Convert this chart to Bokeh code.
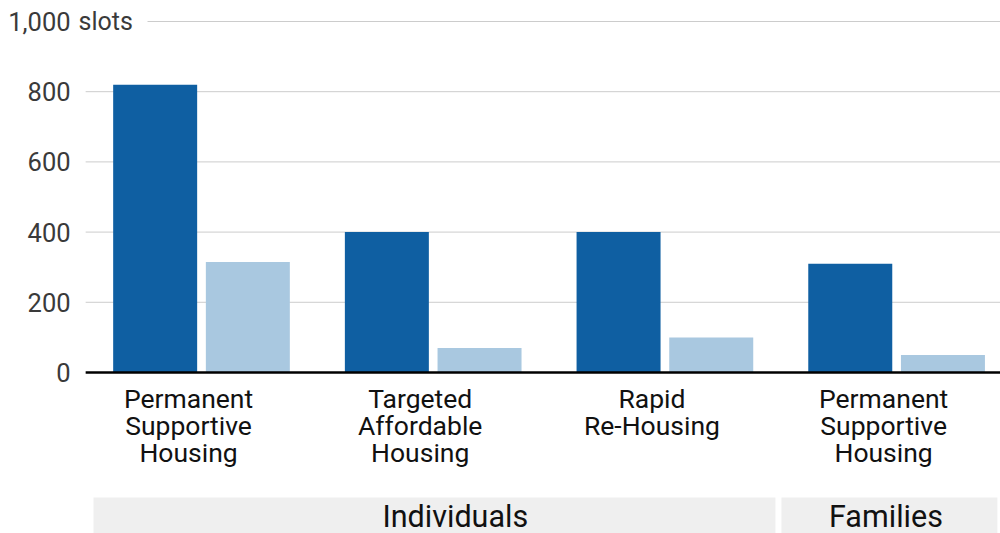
from bokeh.plotting import figure
from bokeh.models import Range1d
from bokeh.core.properties import value
from bokeh.embed import file_html
from bokeh.resources import INLINE

# ---- data ----
categories = ["Permanent\nSupportive\nHousing", "Targeted\nAffordable\nHousing",
              "Rapid\nRe-Housing", "Permanent\nSupportive\nHousing"]
series_dark = [820, 400, 400, 310]
series_light = [315, 70, 100, 50]
y_ticks = [0, 200, 400, 600, 800, 1000]
y_tick_labels = ["0", "200", "400", "600", "800", "1,000"]
unit_label = "slots"
bands = ["Individuals", "Families"]
band_groups = [[0, 1, 2], [3]]

DARK = "#0f5fa2"
LIGHT = "#a9c8e0"
FONT = "Roboto"

W, H = 1000, 533
x_start, x_end = -0.8675, 3.4484
y_start, y_end = -458.7, 1059.8
p = figure(width=W, height=H, output_backend="svg", toolbar_location=None,
           x_axis_location=None, y_axis_location=None,
           x_range=Range1d(x_start, x_end), y_range=Range1d(y_start, y_end),
           min_border=0, outline_line_color=None)
p.xgrid.visible = False
p.ygrid.visible = False
p.background_fill_color = "white"
p.border_fill_color = "white"

idx = list(range(len(categories)))

# gridlines (excluding 0 which is the baseline)
grid_y = [t for t in y_ticks if t != 0]
grid_x0 = [-0.233 if t == y_ticks[-1] else -0.5 for t in grid_y]
p.segment(x0=grid_x0, x1=[x_end] * len(grid_y), y0=grid_y, y1=grid_y,
          line_color="#cccccc", line_width=1)

# bars
off = 0.2
bw = 0.3625
p.vbar(x=[i - off for i in idx], top=series_dark, width=bw, bottom=0,
       fill_color=DARK, line_color=None)
p.vbar(x=[i + off for i in idx], top=series_light, width=bw, bottom=0,
       fill_color=LIGHT, line_color=None)

# baseline
p.segment(x0=[-0.5], x1=[x_end], y0=[0], y1=[0], line_color="black", line_width=2.5)

# y tick labels
p.text(x=[-0.565] * len(y_ticks), y=y_ticks, text=y_tick_labels,
       text_align="right", text_baseline="middle", text_font=value(FONT),
       text_font_size="25.5px", text_color="#3a3a3a")
p.text(x=[-0.565], y=[y_ticks[-1]], text=[unit_label], x_offset=8,
       text_align="left", text_baseline="middle", text_font=value(FONT),
       text_font_size="25px", text_color="#3a3a3a")

# category labels
p.text(x=[i - 0.056 for i in idx], y=[-30] * len(idx), text=categories,
       text_align="center", text_baseline="top", text_font=value(FONT),
       text_font_size="26.5px", text_color="#111111", text_line_height=0.87)

# bands
band_left = [-0.466, 2.503]
band_right = [2.477, 3.435]
p.quad(left=band_left, right=band_right, bottom=[y_start] * len(bands),
       top=[-356] * len(bands), fill_color="#efefef", line_color=None)
label_adj = [0.09, -0.015]
p.text(x=[(l + r) / 2 + a for l, r, a in zip(band_left, band_right, label_adj)],
       y=[-410] * len(bands), text=bands, text_align="center",
       text_baseline="middle", text_font=value(FONT), text_font_size="30.5px",
       text_color="#111111")

open("out.html", "w").write(file_html(p, INLINE))
